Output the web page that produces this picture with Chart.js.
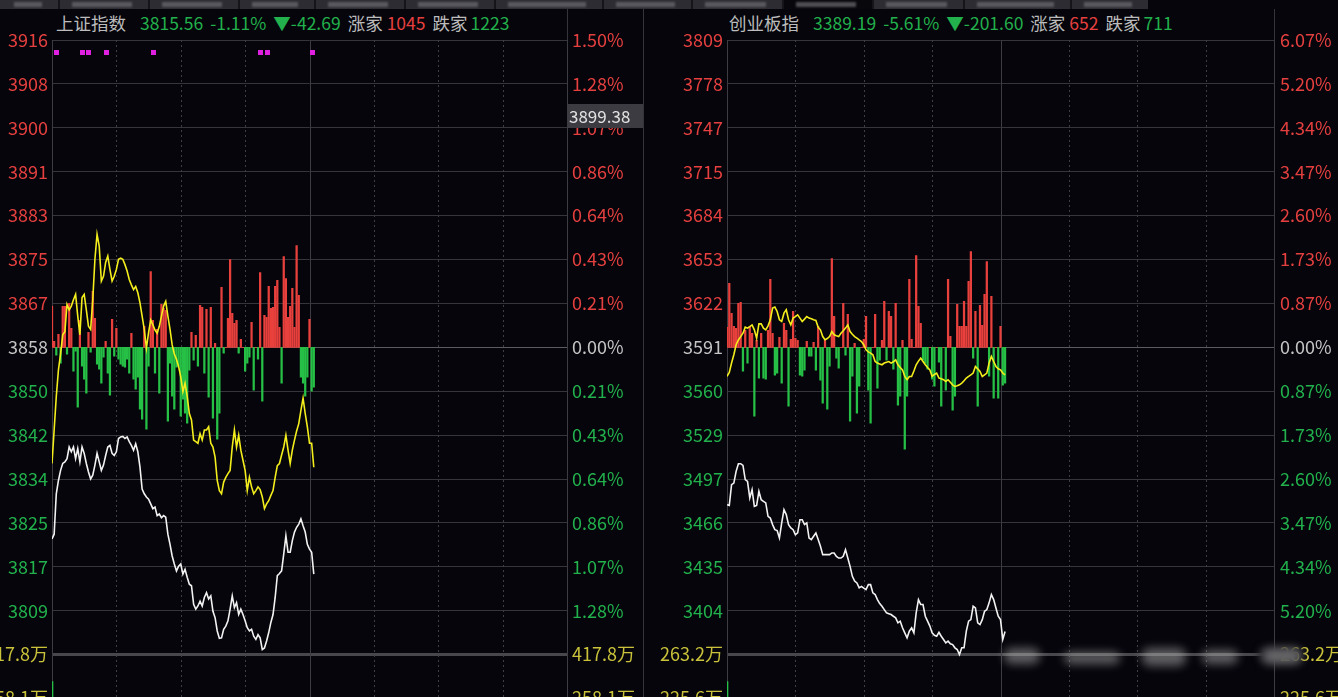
<!DOCTYPE html>
<html>
<head>
<meta charset="utf-8">
<script src="https://cdn.jsdelivr.net/npm/chart.js@4.4.1/dist/chart.umd.min.js"></script>
<style>
  html, body { margin: 0; padding: 0; background: #05050b; width: 1338px; height: 697px; overflow: hidden; }
  body { position: relative; font-family: "Noto Sans CJK SC", "Noto Sans", sans-serif; }
  #tabs { position: absolute; left: 0; top: 0; width: 1148px; height: 9px; background: #2c2c32; }
  .tab-sep { position: absolute; top: 0; width: 2px; height: 9px; background: #15151a; }
  .tab-txt { position: absolute; top: 2px; height: 5px; background: #6c6c72; filter: blur(1.2px); opacity: .7; }
  .title { position: absolute; top: 10px; height: 26px; line-height: 26px; font-size: 17.5px; white-space: nowrap; color: #bcbcbc; }
  .title span { margin-right: 7px; }
  .title .nm { margin-right: 14px; }
  .g { color: #22b14c; }
  .r { color: #e5403f; }
  .vline { position: absolute; width: 1px; background: #34343a; }
  canvas { position: absolute; top: 0; }
  #cross { position: absolute; left: 567px; top: 104px; width: 76px; height: 24px; background: #3b3b41; color: #e2e2e2; font-size: 17px; line-height: 24px; padding-left: 2px; box-sizing: border-box; }
  .blur { position: absolute; background: #b8b8b8; filter: blur(5px); opacity: .5; border-radius: 8px; }
</style>
</head>
<body>
<div id="tabs"></div>

<div class="title" style="left:56px"><span class="nm">上证指数</span><span class="g">3815.56</span><span class="g">-1.11%</span><span class="g">▼-42.69</span><span style="margin-right:4px">涨家</span><span class="r">1045</span><span style="margin-right:3px">跌家</span><span class="g">1223</span></div>
<div class="title" style="left:729px"><span class="nm">创业板指</span><span class="g">3389.19</span><span class="g">-5.61%</span><span class="g">▼-201.60</span><span style="margin-right:4px">涨家</span><span class="r">652</span><span style="margin-right:3px">跌家</span><span class="g">711</span></div>

<div class="vline" style="left:567px; top:9px; height:688px"></div>
<div class="vline" style="left:643px; top:9px; height:688px"></div>
<div class="vline" style="left:1274px; top:9px; height:688px"></div>

<canvas id="chart-sh" width="643" height="760" style="left:0"></canvas>
<canvas id="chart-cyb" width="695" height="760" style="left:643px"></canvas>

<div id="cross">3899.38</div>
<div class="blur" style="left:1004px; top:648px; width:36px; height:16px"></div>
<div class="blur" style="left:1064px; top:652px; width:56px; height:12px"></div>
<div class="blur" style="left:1142px; top:648px; width:44px; height:18px"></div>
<div class="blur" style="left:1202px; top:650px; width:36px; height:14px"></div>
<div class="blur" style="left:1258px; top:646px; width:44px; height:18px; background:#16161c; opacity:1; filter:blur(3px)"></div>
<div class="blur" style="left:1262px; top:648px; width:40px; height:16px"></div>

<script>
/* ===== 上证指数 ===== */
var shPrevClose = 3858.25;
var shRangePct = 1.498;
var shPrice = [
  3822.2, 3823.1, 3830.7, 3833.2, 3835.1, 3836.4, 3836.7, 3837.3, 3839.5, 3838.6,
  3839.5, 3837.3, 3839.2, 3836.7, 3839.5, 3838.3, 3836.4, 3834.8, 3833.5, 3834.2,
  3836.1, 3838.3, 3836.7, 3835.1, 3836.1, 3837.9, 3839.5, 3839.8, 3838.3, 3837.9,
  3838.6, 3841.1, 3841.4, 3841.5, 3841.1, 3841.4, 3840.5, 3839.8, 3838.9, 3840.1,
  3838.6, 3835.7, 3831.6, 3830.7, 3830.1, 3829.7, 3828.8, 3827.9, 3828.2, 3826.6,
  3826.9, 3826.2, 3826.6, 3826.3, 3823.1, 3821.2, 3819.0, 3817.5, 3816.2, 3817.1,
  3817.5, 3815.6, 3816.5, 3815.0, 3813.7, 3813.4, 3809.9, 3809.0, 3809.6, 3810.5,
  3809.6, 3811.2, 3812.1, 3810.9, 3811.5, 3808.6, 3807.4, 3804.9, 3803.5, 3803.6,
  3805.2, 3805.8, 3806.8, 3809.0, 3811.5, 3809.3, 3810.2, 3808.0, 3809.0, 3808.0,
  3806.8, 3805.5, 3804.9, 3805.2, 3803.9, 3803.3, 3804.2, 3803.6, 3801.4, 3801.7,
  3803.0, 3804.6, 3806.5, 3808.0, 3811.2, 3815.3, 3815.7, 3816.2, 3819.4, 3822.8,
  3819.7, 3819.7, 3821.9, 3823.5, 3824.4, 3825.0, 3826.0, 3824.7, 3823.5, 3821.2,
  3820.3, 3819.7, 3815.6
];
var shLead = [
  3836.4, 3842.7, 3849.0, 3854.0, 3857.0, 3860.6, 3861.2, 3866.3, 3865.3, 3866.0,
  3867.2, 3868.2, 3864.1, 3860.6, 3867.6, 3868.2, 3865.3, 3862.2, 3861.6, 3867.2,
  3874.8, 3879.5, 3877.3, 3870.7, 3871.6, 3874.2, 3875.4, 3872.9, 3870.7, 3871.6,
  3872.9, 3874.8, 3875.0, 3874.8, 3873.8, 3872.6, 3871.0, 3870.0, 3869.1, 3869.7,
  3868.5, 3866.6, 3864.1, 3861.6, 3858.1, 3861.0, 3863.4, 3862.5, 3861.5, 3860.9,
  3862.2, 3864.1, 3866.0, 3866.9, 3864.1, 3861.6, 3858.7, 3857.0, 3856.0, 3854.6,
  3852.7, 3849.9, 3851.5, 3849.0, 3845.8, 3844.6, 3840.8, 3840.5, 3840.2, 3842.0,
  3840.8, 3842.7, 3842.7, 3843.3, 3840.2, 3839.5, 3837.6, 3833.2, 3831.3, 3830.7,
  3832.9, 3833.8, 3834.5, 3835.1, 3839.5, 3842.7, 3839.5, 3841.7, 3838.9, 3837.0,
  3835.1, 3831.3, 3833.8, 3832.0, 3830.7, 3831.3, 3832.0, 3831.5, 3830.1, 3827.9,
  3828.8, 3829.4, 3830.4, 3831.3, 3833.8, 3836.0, 3836.4, 3838.0, 3839.5, 3841.7,
  3838.9, 3836.4, 3838.9, 3840.8, 3842.5, 3843.9, 3846.4, 3848.7, 3845.8, 3843.3,
  3840.2, 3840.2, 3835.7
];
// 红绿柱 (正=红, 负=绿)
var shForce = [
   41,   6,  -8,  13, -16,  41,  41,  -7,  44,  19,
  -24,  -4, -60,  27, -19, -32, -46,  15,  -5,  56,
   29, -17, -22, -36, -10,   6, -26, -48,  28,  -9,
   19, -12, -17, -19, -20, -12, -26,  14, -32, -42,
  -30, -62, -72,  21, -82, -19,  76,  27, -26,  18,
  -46,  43,  39,  37, -74, -16, -49, -62, -20, -19,
  -69, -52, -66, -76, -23,  15, -13,  12, -19,  42,
   40, -26,  38, -50,  40, -71,   4, -92, -66,  60,
   -6,   0,  29,  88,  34,  24,  27,  -6,   8,   0,
  -24, -16, -10,  25, -43,   0, -12,  75, -54,  32,
   30,  61,  39,  40,  61,  67,  20, -36,  91,  69,
   30,  41,  59,  20, 102,  52, -30, -36, -49, -30,
   28, -44, -40
];
var shVolume = [320];
var shSignals = [2, 14, 17, 25, 47, 97, 100, 121];
var shPriceLabels = ['3916', '3908', '3900', '3891', '3883', '3875', '3867', '3858',
  '3850', '3842', '3834', '3825', '3817', '3809', '417.8万', '258.1万'];
var shPctLabels = ['1.50%', '1.28%', '1.07%', '0.86%', '0.64%', '0.43%', '0.21%', '0.00%',
  '0.21%', '0.43%', '0.64%', '0.86%', '1.07%', '1.28%', '417.8万', '258.1万'];

/* ===== 创业板指 ===== */
var cybPrevClose = 3590.79;
var cybRangePct = 6.071;
var cybPrice = [
  3479.1, 3478.6, 3493.3, 3494.5, 3502.8, 3508.2, 3508.2, 3507.0, 3496.9, 3495.7,
  3483.9, 3489.8, 3478.0, 3478.6, 3488.6, 3482.7, 3481.5, 3480.4, 3470.9, 3469.7,
  3465.0, 3461.4, 3460.8, 3455.5, 3466.2, 3475.6, 3472.1, 3465.0, 3462.6, 3461.4,
  3457.9, 3459.2, 3468.5, 3468.5, 3465.0, 3466.2, 3455.5, 3454.4, 3456.7, 3459.1,
  3454.4, 3449.6, 3443.7, 3443.7, 3443.7, 3443.7, 3444.9, 3444.9, 3442.5, 3441.3,
  3441.3, 3442.5, 3447.2, 3441.3, 3435.4, 3428.3, 3425.0, 3423.6, 3420.1, 3421.2,
  3420.0, 3418.9, 3422.4, 3422.4, 3416.6, 3415.4, 3411.8, 3409.0, 3407.1, 3404.7,
  3402.4, 3401.8, 3401.2, 3400.0, 3398.9, 3395.3, 3396.5, 3391.8, 3388.2, 3384.7,
  3389.4, 3391.8, 3388.2, 3402.4, 3411.8, 3408.3, 3408.3, 3400.0, 3396.5, 3393.0,
  3388.2, 3386.5, 3385.8, 3388.6, 3385.8, 3383.5, 3381.1, 3382.3, 3380.5, 3379.9,
  3377.6, 3376.4, 3372.8, 3377.6, 3377.6, 3389.4, 3396.5, 3397.6, 3407.1, 3405.9,
  3395.3, 3394.1, 3397.6, 3403.5, 3404.7, 3409.5, 3415.4, 3411.8, 3405.9, 3400.0,
  3397.6, 3383.5, 3389.2
];
var cybLead = [
  3570.1, 3573.0, 3579.6, 3585.5, 3592.6, 3596.0, 3598.4, 3600.8, 3605.1, 3604.4,
  3605.5, 3606.7, 3603.2, 3597.3, 3607.4, 3607.4, 3604.4, 3603.2, 3606.0, 3610.3,
  3618.6, 3619.3, 3616.2, 3610.3, 3609.1, 3615.0, 3617.4, 3610.3, 3606.7, 3611.5,
  3612.5, 3613.8, 3611.5, 3609.1, 3610.8, 3612.6, 3611.5, 3611.0, 3610.3, 3609.8,
  3605.0, 3603.2, 3598.4, 3596.1, 3597.0, 3598.4, 3602.0, 3599.7, 3599.0, 3598.4,
  3600.8, 3602.5, 3604.4, 3606.7, 3602.0, 3600.0, 3598.4, 3597.3, 3596.0, 3594.9,
  3592.6, 3589.0, 3587.5, 3586.7, 3585.5, 3580.7, 3579.6, 3579.0, 3578.4, 3579.6,
  3580.2, 3580.7, 3579.6, 3580.5, 3581.9, 3578.4, 3576.5, 3574.8, 3570.1, 3567.8,
  3570.1, 3570.1, 3574.0, 3578.4, 3581.0, 3583.1, 3580.7, 3578.4, 3576.5, 3574.8,
  3570.1, 3571.5, 3572.5, 3569.0, 3568.5, 3567.8, 3566.6, 3567.8, 3566.0, 3564.2,
  3563.0, 3563.5, 3564.2, 3565.4, 3567.0, 3569.0, 3570.1, 3571.3, 3572.5, 3577.2,
  3575.5, 3573.6, 3570.1, 3571.3, 3572.5, 3579.6, 3584.3, 3580.7, 3577.2, 3575.5,
  3574.8, 3572.5, 3571.3
];
var cybForce = [
   20,  64,  34,  21,  19,  44,  45, -24,  17, -16,
   21,  14, -69,   7, -31,  14, -31, -32,  17,  68,
   14, -28, -26,  10, -36,  24,  17, -59,   8,  36,
    9,   7, -28, -29, -23,   6,  -9,  -9,   5, -23,
   21, -33, -56,   7, -62, -19,  89,  31, -11, -21,
    0,  44,  -8,  33, -74, -29,   4, -66, -39,   0,
    8,  31, -43, -76,   0,  33, -41, -13,   7,  46,
  -13,  36,  31, -22,  44, -58, -49,   7, -102, -49,
   68,   8,   0,  92,  41,  24, -13, -16, -22,   0,
  -32, -39,   0, -15, -59,   0, -43,  68,  11, -63,
  -49,  43,  21,  21,  46,  21,  66,  96, -11,  36,
  -59,  42,  22,  53,  86, -29,  51, -51,   0, -51,
   21, -38, -36
];
var cybVolume = [240];
var cybSignals = [];
var cybPriceLabels = ['3809', '3778', '3747', '3715', '3684', '3653', '3622', '3591',
  '3560', '3529', '3497', '3466', '3435', '3404', '263.2万', '225.6万'];
var cybPctLabels = ['6.07%', '5.20%', '4.34%', '3.47%', '2.60%', '1.73%', '0.87%', '0.00%',
  '0.87%', '1.73%', '2.60%', '3.47%', '4.34%', '5.20%', '263.2万', '225.6万'];

/* ===== tab bar (dekorasi) ===== */
var tabEdges = [0, 58, 148, 238, 314, 404, 494, 602, 691, 782, 872, 963, 1070, 1148];
(function() {
  var bar = document.getElementById('tabs');
  for (var i = 0; i < tabEdges.length - 1; i++) {
    var a = tabEdges[i], b = tabEdges[i + 1];
    if (a === 782) {
      var sel = document.createElement('div');
      sel.style.cssText = 'position:absolute;top:0;height:9px;background:#07070c;left:' + a + 'px;width:' + (b - a) + 'px';
      bar.appendChild(sel);
    }
    var t = document.createElement('div');
    t.className = 'tab-txt';
    t.style.left = (a + 14) + 'px';
    t.style.width = Math.max(10, b - a - 30) + 'px';
    bar.appendChild(t);
    if (i > 0) {
      var s = document.createElement('div');
      s.className = 'tab-sep';
      s.style.left = a + 'px';
      bar.appendChild(s);
    }
  }
})();

var RED = '#e5403f', GREEN = '#22b14c', GREY = '#c4c4c4', YELLOW = '#c9c23a';

function series(arr) {
  return arr.map(function(v, i) { return { x: i, y: v }; });
}

// garis vertikal sesi + sinyal ungu
var panelDeco = {
  id: 'panelDeco',
  beforeDatasetsDraw: function(chart) {
    var xs = chart.scales.x, a = chart.chartArea, c = chart.ctx;
    c.save();
    c.lineWidth = 1;
    for (var m = 0; m <= 240; m += 30) {
      var px = Math.round(xs.getPixelForValue(m)) + 0.5;
      var solid = (m % 120 === 0);
      c.strokeStyle = solid ? '#3c3c42' : '#3e3e44';
      c.setLineDash(solid ? [] : [2, 3]);
      c.beginPath();
      c.moveTo(px, a.top);
      c.lineTo(px, a.bottom);
      c.stroke();
    }
    c.restore();
  },
  afterDatasetsDraw: function(chart) {
    var sig = chart.options.plugins.panelDeco.signals || [];
    var xs = chart.scales.x, a = chart.chartArea, c = chart.ctx;
    c.save();
    c.fillStyle = '#e020e0';
    sig.forEach(function(m) {
      var px = xs.getPixelForValue(m);
      c.fillRect(Math.round(px) - 2, a.top + 10, 5, 5);
    });
    c.restore();
  }
};

function buildPanel(id, p) {
  var step = p.prevClose * p.rangePct / 700;
  var tickVals = [];
  for (var k = -8; k <= 7; k++) tickVals.push(p.prevClose + k * step);
  var vStep = p.volTop - p.volMid;
  var F = 44; // satuan kekuatan per grid

  function kOf(ctx) { return ctx.index - 8; }
  function labelColor(ctx) {
    var k = kOf(ctx);
    if (k > 0) return RED;
    if (k === 0) return GREY;
    if (k >= -6) return GREEN;
    return YELLOW;
  }
  function setTicks(scale) {
    scale.ticks = tickVals.map(function(v) { return { value: v }; });
  }
  var tickFont = { family: '"Noto Sans CJK SC", "Noto Sans", sans-serif', size: 18 };

  return new Chart(document.getElementById(id), {
    type: 'line',
    data: {
      datasets: [
        {
          type: 'line', data: series(p.price), yAxisID: 'y',
          borderColor: '#f2f2f2', borderWidth: 1.6, pointRadius: 0, order: 0
        },
        {
          type: 'line', data: series(p.lead), yAxisID: 'y',
          borderColor: '#f3ee1c', borderWidth: 1.6, pointRadius: 0, order: 1
        },
        {
          type: 'bar', data: series(p.force), yAxisID: 'yb', grouped: false,
          barThickness: 1.6, order: 2,
          backgroundColor: function(ctx) { return ctx.raw && ctx.raw.y >= 0 ? '#e8403c' : '#27c046'; }
        },
        {
          type: 'bar', data: series(p.volume), yAxisID: 'yv', grouped: false,
          barThickness: 2, order: 3, backgroundColor: '#27c046'
        }
      ]
    },
    options: {
      responsive: false,
      animation: false,
      events: [],
      layout: { padding: { top: 40, bottom: 17.6, left: 0, right: 0 } },
      plugins: { legend: { display: false }, tooltip: { enabled: false }, panelDeco: { signals: p.signals } },
      scales: {
        x: { type: 'linear', min: 0, max: 240, offset: false, display: false },
        y: {
          position: 'left',
          min: p.prevClose - 9 * step, max: p.prevClose + 7 * step,
          afterBuildTicks: setTicks,
          afterFit: function(s) { s.width = p.leftW; },
          border: { display: false },
          grid: {
            drawTicks: false,
            color: function(ctx) {
              var k = kOf(ctx);
              if (k === 0) return '#5c5c60';
              if (k === -7) return '#48484c';
              return '#36363a';
            },
            lineWidth: function(ctx) { return kOf(ctx) === -7 ? 3 : 1; }
          },
          ticks: {
            autoSkip: false, padding: 4, font: tickFont, color: labelColor,
            callback: function(v, i) { return p.priceLabels[15 - i]; }
          }
        },
        yp: {
          position: 'right',
          min: p.prevClose - 9 * step, max: p.prevClose + 7 * step,
          afterBuildTicks: setTicks,
          afterFit: function(s) { s.width = p.rightW; },
          border: { display: false },
          grid: { drawOnChartArea: false, drawTicks: false },
          ticks: {
            autoSkip: false, padding: p.rightPad, font: tickFont, color: labelColor,
            callback: function(v, i) { return p.pctLabels[15 - i]; }
          }
        },
        yb: { display: false, min: -9 * F, max: 7 * F },
        yv: { display: false, min: p.volMid - vStep, max: p.volTop + 14 * vStep }
      }
    },
    plugins: [panelDeco]
  });
}

buildPanel('chart-sh', {
  prevClose: shPrevClose, rangePct: shRangePct,
  price: shPrice, lead: shLead, force: shForce, volume: shVolume, signals: shSignals,
  priceLabels: shPriceLabels, pctLabels: shPctLabels,
  volTop: 417.8, volMid: 258.1,
  leftW: 52, rightW: 76, rightPad: 5
});

buildPanel('chart-cyb', {
  prevClose: cybPrevClose, rangePct: cybRangePct,
  price: cybPrice, lead: cybLead, force: cybForce, volume: cybVolume, signals: cybSignals,
  priceLabels: cybPriceLabels, pctLabels: cybPctLabels,
  volTop: 263.2, volMid: 225.6,
  leftW: 84, rightW: 64, rightPad: 6
});
</script>
</body>
</html>
